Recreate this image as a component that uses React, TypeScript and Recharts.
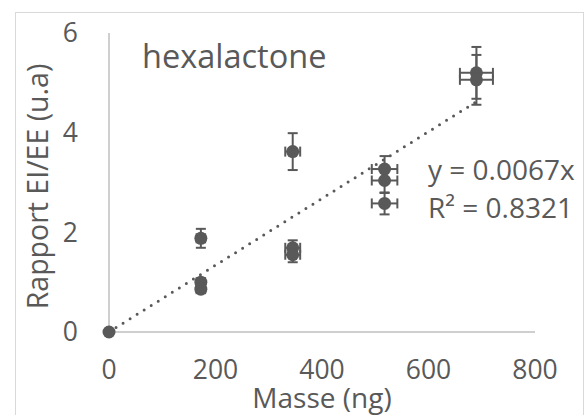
import {
  ErrorBar,
  Label,
  ReferenceLine,
  Scatter,
  ScatterChart,
  XAxis,
  YAxis,
} from "recharts";

// masse injectée (ng) et rapport EI/EE mesuré
const massNg = [0, 172.5, 172.5, 172.5, 345, 345, 345, 517.5, 517.5, 517.5, 690, 690];
const ratio = [0, 1.88, 1.0, 0.86, 3.62, 1.69, 1.55, 3.27, 3.04, 2.58, 5.2, 5.06];
const ratioErr = [0, 0.19, 0.06, 0.06, 0.37, 0.15, 0.15, 0.26, 0.25, 0.22, 0.52, 0.5];
const massErr = [0, 8, 8, 8, 14, 14, 14, 24, 24, 24, 31, 31];

const xTicks = [0, 200, 400, 600, 800];
const yTicks = [0, 2, 4, 6];

const title = "hexalactone";
const slope = 0.0067;
const rSquared = 0.8321;
const trendEnd = 690;

const FONT = "'Open Sans', sans-serif";
const TEXT = "#595959";
const AXIS = "#bfbfbf";

const points = massNg.map((x, i) => ({
  x,
  y: ratio[i],
  ey: ratioErr[i],
  ex: massErr[i],
}));

function Dot(props: any) {
  return <circle cx={props.cx} cy={props.cy} r={6.5} fill={TEXT} />;
}

function XTitle({ viewBox }: any) {
  return (
    <text
      x={viewBox.x + viewBox.width / 2}
      y={viewBox.y + 76}
      textAnchor="middle"
      fill={TEXT}
      fontSize={28}
      fontFamily={FONT}
    >
      Masse (ng)
    </text>
  );
}

function YTitle({ viewBox }: any) {
  const cx = viewBox.x + 48;
  const cy = viewBox.y + viewBox.height / 2 + 4;
  return (
    <text
      x={cx}
      y={cy}
      transform={`rotate(-90, ${cx}, ${cy})`}
      textAnchor="middle"
      fill={TEXT}
      fontSize={28.5}
      fontFamily={FONT}
    >
      Rapport EI/EE (u.a)
    </text>
  );
}

export default function App() {
  const tick = { fill: TEXT, fontSize: 26.5, fontFamily: FONT };
  return (
    <div style={{ position: "fixed", left: 0, top: 0, width: 584, height: 415, background: "#fff" }}>
      <div
        style={{
          position: "absolute",
          left: 15,
          top: 12,
          width: 567,
          height: 420,
          border: "1.5px solid #d9d9d9",
          borderBottom: "none",
        }}
      />
      <ScatterChart
        width={584}
        height={415}
        margin={{ top: 33, right: 49, bottom: 0, left: 0 }}
        style={{ position: "absolute", left: 0, top: 0 }}
      >
        <XAxis
          type="number"
          dataKey="x"
          domain={[0, 800]}
          ticks={xTicks}
          height={83}
          tick={tick}
          tickLine={false}
          tickSize={0}
          tickMargin={28}
          axisLine={{ stroke: AXIS, strokeWidth: 1.5 }}
        >
          <Label content={XTitle} />
        </XAxis>
        <YAxis
          type="number"
          dataKey="y"
          domain={[0, 6]}
          ticks={yTicks}
          width={109}
          tick={tick}
          tickLine={false}
          tickSize={0}
          tickMargin={31}
          axisLine={{ stroke: AXIS, strokeWidth: 1.5 }}
        >
          <Label content={YTitle} />
        </YAxis>
        <ReferenceLine
          segment={[
            { x: 0, y: 0 },
            { x: trendEnd, y: slope * trendEnd },
          ]}
          stroke={TEXT}
          strokeWidth={3}
          strokeDasharray="0 8.3"
          strokeLinecap="round"
        />
        <Scatter data={points} shape={Dot} isAnimationActive={false}>
          <ErrorBar dataKey="ey" direction="y" width={5} stroke={TEXT} strokeWidth={2} />
          <ErrorBar dataKey="ex" direction="x" width={5} stroke={TEXT} strokeWidth={2} />
        </Scatter>
        <text x={142} y={68} fill={TEXT} fontSize={32.5} fontFamily={FONT}>
          {title}
        </text>
        <text x={428} y={180} fill={TEXT} fontSize={28} fontFamily={FONT}>
          {`y = ${slope}x`}
        </text>
        <text x={428} y={218} fill={TEXT} fontSize={28} fontFamily={FONT}>
          {`R² = ${rSquared}`}
        </text>
      </ScatterChart>
    </div>
  );
}
